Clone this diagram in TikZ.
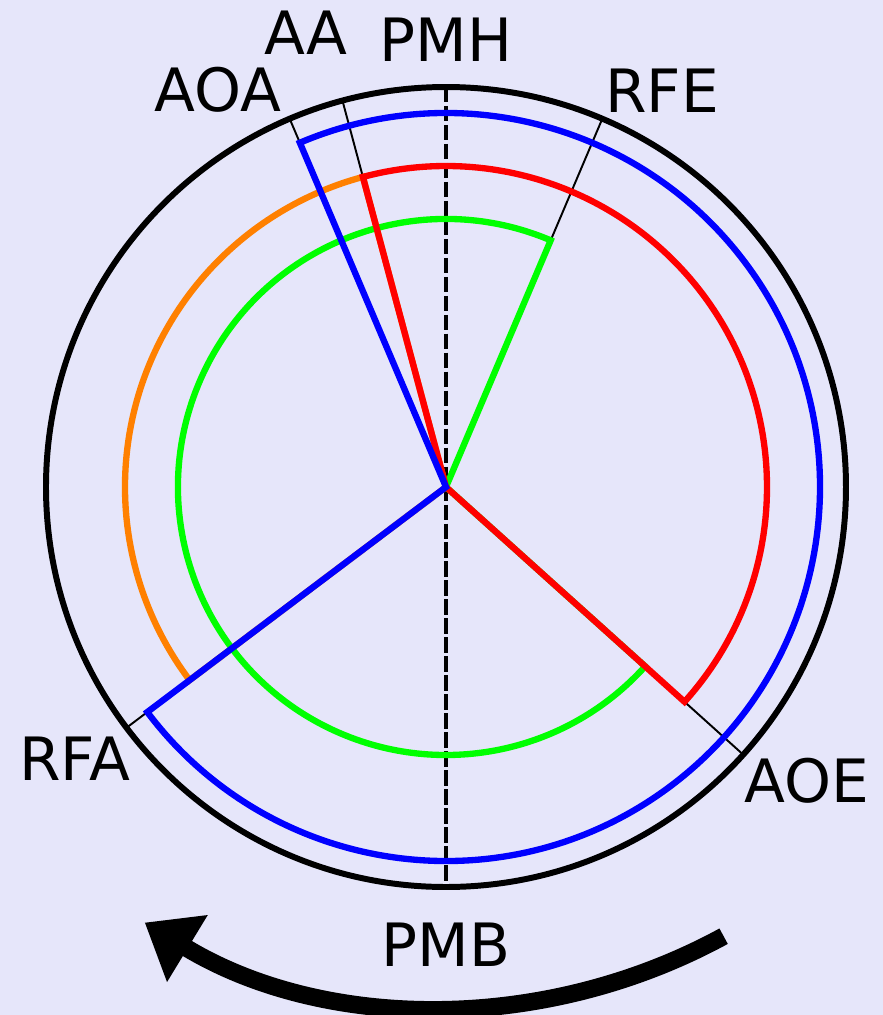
\documentclass[tikz,border=0pt]{standalone}
\usepackage{fontspec}
\setmainfont{DejaVu Sans}
\usetikzlibrary{arrows.meta}
\definecolor{valveBlue}{RGB}{0,0,255}
\definecolor{valveRed}{RGB}{255,0,0}
\definecolor{valveGreen}{RGB}{0,255,0}
\definecolor{valveOrange}{RGB}{255,128,0}
\definecolor{valveBg}{RGB}{230,230,250}

\begin{document}
\begin{tikzpicture}[
  % ── phase sectors (centre -> arc -> centre) ──
  phase/.style={line width=1.8pt, line join=miter},
  % ── reference lines ──
  ring/.style={draw=black, line width=1.7pt},
  tick/.style={draw=black, line width=0.55pt},
  deadc/.style={draw=black, line width=0.9pt, dash pattern=on 4.4pt off 1pt},
  % ── labels ──
  lbl/.style={font=\fontsize{17}{20}\selectfont, inner sep=0pt},
  % ── rotation arrow ──
  turn/.style={-{Triangle[length=5mm,width=7.5mm]}, line width=5pt},
]

%% ─── radii ─────────────────────────────────────────────────────
\def\rout{4.00}   % outer circle
\def\rb{3.74}     % blue sector
\def\rin{3.21}    % red / orange sectors
\def\rg{2.68}     % green sector

% background + frame
\fill[valveBg] (-4.46,-5.28) rectangle (4.37,4.87);
\useasboundingbox (-4.46,-5.28) rectangle (4.37,4.87);

\coordinate (O) at (0,0);

%% ─── 1. PMH / PMB axis and timing ticks ──────────────────────
\draw[deadc] (0,\rout) -- (0,-\rout);
\foreach \ang in {113,105,67,-42,217}{
  \draw[tick] (O) -- (\ang:\rout);
}
\draw[ring] (O) circle[radius=\rout];

%% ─── 2. Sectors ────────────────────────────────────────────────
% orange : AA -> RFA
\draw[phase, valveOrange] (O) -- (105:\rin)
      arc[start angle=105, end angle=217, radius=\rin] -- cycle;
% green : RFE -> AOE
\draw[phase, valveGreen] (O) -- (67:\rg)
      arc[start angle=67, end angle=318, radius=\rg] -- cycle;
% red : AOE -> AA
\draw[phase, valveRed] (O) -- (-42:\rin)
      arc[start angle=-42, end angle=105, radius=\rin] -- cycle;
% blue : RFA -> AOA
\draw[phase, valveBlue] (O) -- (217:\rb)
      arc[start angle=217, end angle=473, radius=\rb] -- cycle;

%% ─── 3. Labels ─────────────────────────────────────────────────
\node[lbl] (pmh) at (0,4.47)     {PMH};
\node[lbl] (aa)  at (-1.40,4.54) {AA};
\node[lbl] (aoa) at (-2.28,3.97) {AOA};
\node[lbl] (rfe) at (2.16,3.96)  {RFE};
\node[lbl] (aoe) at (3.61,-2.94) {AOE};
\node[lbl] (rfa) at (-3.71,-2.72) {RFA};
\node[lbl] (pmb) at (0,-4.58)    {PMB};

%% ─── 4. Direction of rotation ─────────────────────────────────
\draw[turn] ([shift={(0,0.6)}]-61.4:5.8)
      arc[start angle=-61.4, end angle=-121.3, radius=5.8];

\end{tikzpicture}
\end{document}
